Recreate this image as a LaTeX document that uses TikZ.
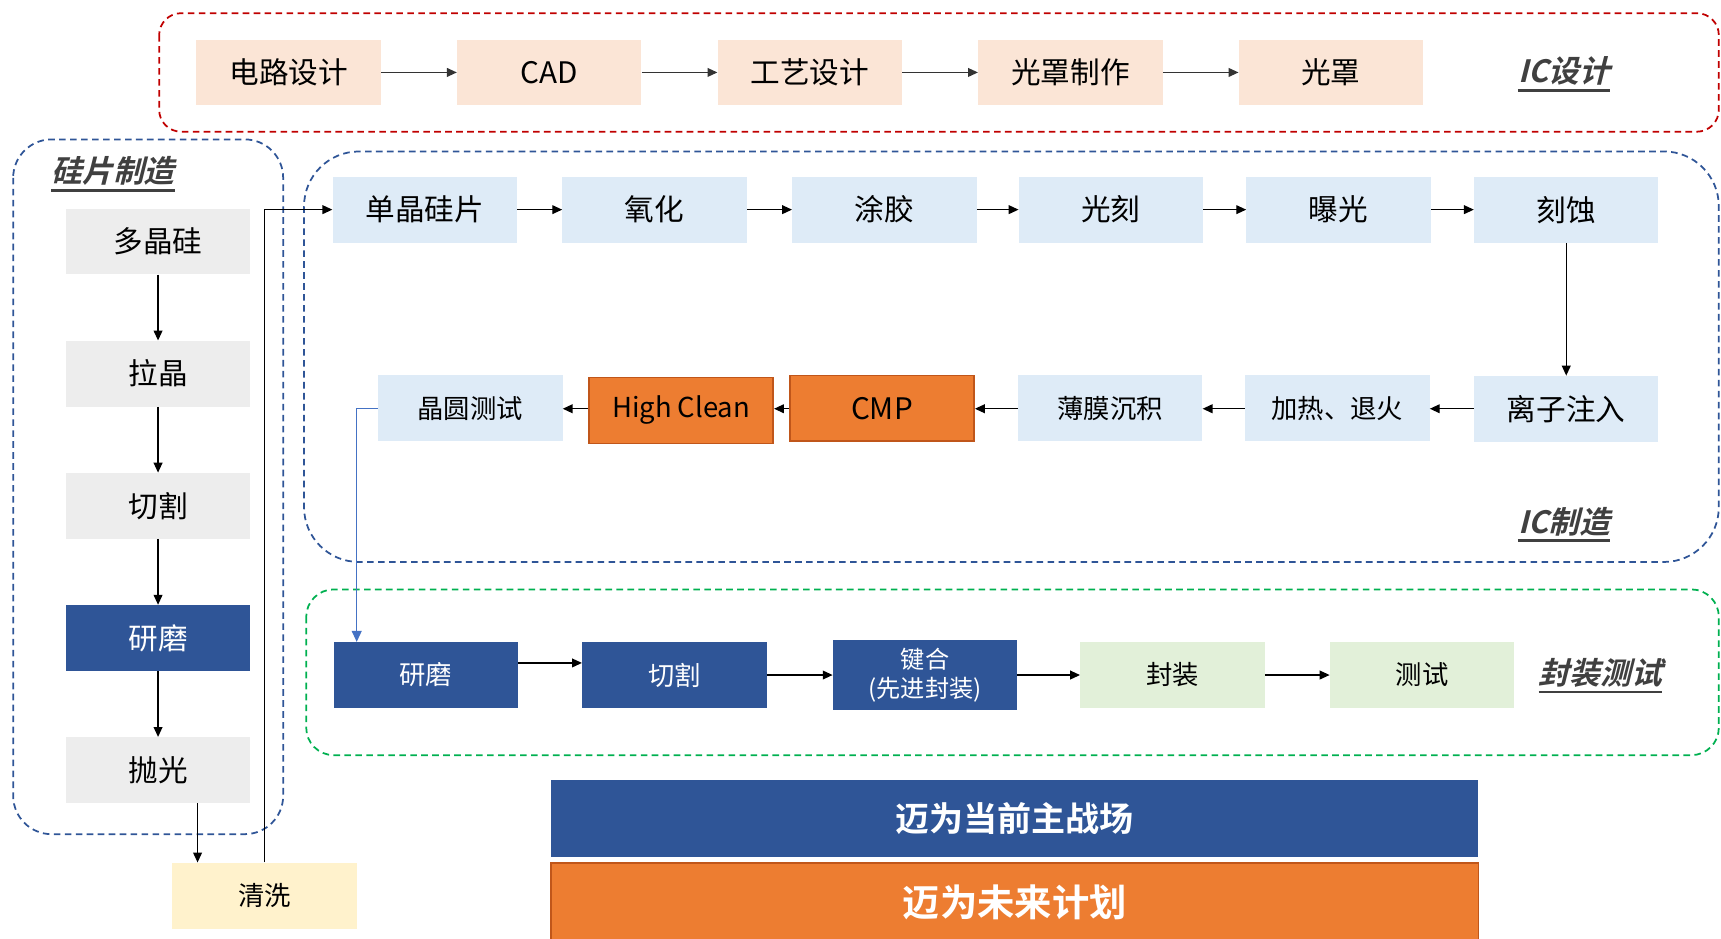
\documentclass[tikz,border=0pt]{standalone}
\usepackage{fontspec}
\setmainfont{Noto Sans CJK SC}
\newfontfamily\tagfont[FakeSlant=0.25]{Noto Sans CJK SC Bold}
\newfontfamily\barfont{Noto Sans CJK SC Bold}
\usetikzlibrary{arrows.meta, positioning}
\definecolor{Peach}{HTML}{FBE5D6}
\definecolor{IceBlue}{HTML}{DEEBF7}
\definecolor{PaleGray}{HTML}{EDEDED}
\definecolor{Cream}{HTML}{FFF2CC}
\definecolor{Mint}{HTML}{E2F0D9}
\definecolor{DeepBlue}{HTML}{2F5597}
\definecolor{Tangerine}{HTML}{ED7D31}
\definecolor{TangerineEdge}{HTML}{C0561A}
\definecolor{FrameRed}{HTML}{C00000}
\definecolor{FrameBlue}{HTML}{2F5597}
\definecolor{FrameGreen}{HTML}{00B050}
\definecolor{TagGray}{HTML}{404040}
\definecolor{LinkBlue}{HTML}{4472C4}

\begin{document}
\begin{tikzpicture}[x=1pt, y=-1pt,
    % --- Styles ---
    % Process step boxes
    stepbox/.style={
        minimum width=168pt, minimum height=60pt, inner sep=0pt,
        font=\fontsize{27}{30}\selectfont
    },
    design/.style={stepbox, fill=Peach},
    fab/.style={stepbox, fill=IceBlue},
    wafer/.style={stepbox, fill=PaleGray},
    pack/.style={stepbox, fill=Mint, font=\fontsize{24}{27}\selectfont},
    now/.style={stepbox, fill=DeepBlue, text=white, font=\fontsize{24}{27}\selectfont},
    plan/.style={stepbox, fill=Tangerine, draw=TangerineEdge, line width=1.5pt},
    % Group frames
    frame/.style={dashed, dash pattern=on 6pt off 4pt, line width=1.6pt},
    % Group titles
    tag/.style={font=\tagfont\fontsize{28}{30}\selectfont, text=TagGray, inner sep=0pt},
    tagline/.style={line width=2.5pt, draw=TagGray},
    % Connectors
    flow/.style={
        -{Triangle[length=9pt, width=8pt]},
        line width=1.2pt,
        draw=black
    },
    linkflow/.style={
        -{Triangle[length=10pt, width=9pt]},
        line width=1.2pt,
        draw=LinkBlue
    },
    % Bottom legend bars
    bar/.style={
        minimum width=845pt, minimum height=70pt, inner sep=0pt,
        text=white, font=\barfont\fontsize{31}{34}\selectfont
    }
]
\useasboundingbox (0,0) rectangle (1568,855);

% --- Group frames ---
\draw[frame, draw=FrameRed, rounded corners=20pt] (145,12) rectangle (1566,120);
\draw[frame, draw=FrameBlue, rounded corners=35pt] (12,127) rectangle (258,760);
\draw[frame, draw=FrameBlue, rounded corners=50pt] (277,138) rectangle (1566,512);
\draw[frame, draw=FrameGreen, rounded corners=25pt] (279,537) rectangle (1566,688);

% --- IC design row ---
\node[design] (cir) at (263,66) {电路设计};
\node[design, right=69pt of cir] (cad) {CAD};
\node[design, right=69pt of cad] (proc) {工艺设计};
\node[design, right=69pt of proc] (mkmask) {光罩制作};
\node[design, right=69pt of mkmask] (mask) {光罩};
\foreach \a/\b in {cir/cad, cad/proc, proc/mkmask, mkmask/mask} {
    \draw[flow, draw=black!80] (\a) -- (\b);
}
\node[tag] (icd) at (1425,65) {IC设计};
\draw[tagline] ([yshift=-4pt]icd.south west) -- ([yshift=-4pt]icd.south east);

% --- Wafer column ---
\node[tag] (wfr) at (103,156) {硅片制造};
\draw[tagline] ([yshift=-4pt]wfr.south west) -- ([yshift=-4pt]wfr.south east);
\node[wafer] (poly) at (144,220) {多晶硅};
\node[wafer, below=60pt of poly] (pull) {拉晶};
\node[wafer, below=60pt of pull] (slice) {切割};
\node[now, below=60pt of slice, font=\fontsize{27}{30}\selectfont] (grind) {研磨};
\node[wafer, below=60pt of grind] (pol) {抛光};
\foreach \a/\b in {poly/pull, pull/slice, slice/grind, grind/pol} {
    \draw[flow] (\a) -- (\b);
}
\node[stepbox, fill=Cream, font=\fontsize{24}{27}\selectfont] (wash) at (241,816) {清洗};
\draw[flow] ([xshift=36pt]pol.south) -- ([xshift=36pt]pol.south |- wash.north);

% --- IC fab, first row ---
\node[fab] (mono) at (387,191) {单晶硅片};
\node[fab, right=41pt of mono] (oxi) {氧化};
\node[fab, right=41pt of oxi] (coat) {涂胶};
\node[fab, right=38pt of coat] (litho) {光刻};
\node[fab, right=39pt of litho] (expo) {曝光};
\node[fab, right=39pt of expo] (etch) {刻蚀};
\foreach \a/\b in {mono/oxi, oxi/coat, coat/litho, litho/expo, expo/etch} {
    \draw[flow] (\a) -- (\b);
}
\draw[flow] (wash.north) |- (mono.west);

% --- IC fab, second row ---
\node[fab, below=121pt of etch] (ion) {离子注入};
\node[fab, font=\fontsize{24}{27}\selectfont] (anneal) at (1218.5,372) {加热、退火};
\node[fab, font=\fontsize{24}{27}\selectfont] (film) at (1011.5,372) {薄膜沉积};
\node[plan] (cmp) at (803.5,372) {CMP};
\node[plan, font=\fontsize{25}{28}\selectfont] (clean) at (620.5,374) {High Clean};
\node[fab, font=\fontsize{24}{27}\selectfont] (probe) at (428.5,372) {晶圆测试};
\draw[flow] (etch) -- (ion);
\foreach \a/\b in {ion/anneal, anneal/film, film/cmp, cmp/clean, clean/probe} {
    \draw[flow] (\a.west |- ion.west) -- (\b.east |- ion.west);
}
\node[tag] (icf) at (1425,475) {IC制造};
\draw[tagline] ([yshift=-4pt]icf.south west) -- ([yshift=-4pt]icf.south east);

% --- Packaging and test row ---
\node[now] (thin) at (388,615) {研磨};
\node[now, right=58pt of thin] (dice) {切割};
\node[now, right=60pt of dice, align=center, minimum height=63pt,
    font=\fontsize{22}{26}\selectfont] (bond) {键合\\(先进封装)};
\node[pack, right=57pt of bond] (pkg) {封装};
\node[pack, right=59pt of pkg] (test) {测试};
\draw[flow] ([yshift=11pt]thin.east) -- ([yshift=11pt]thin.east -| dice.west);
\foreach \a/\b in {dice/bond, bond/pkg, pkg/test} {
    \draw[flow] (\a.east |- dice.east) -- (\b.west |- dice.east);
}
\node[tag] (ptt) at (1458,613) {封装测试};
\draw[tagline] ([yshift=-4pt]ptt.south west) -- ([yshift=-4pt]ptt.south east);

% --- Wafer test down to packaging ---
\coordinate (drop) at (325,372);
\draw[linkflow] (probe.west) -- (drop) -- (drop |- thin.north);

% --- Legend bars ---
\node[bar, fill=DeepBlue] (present) at (924.5,746) {迈为当前主战场};
\node[bar, fill=Tangerine, draw=TangerineEdge, line width=1.5pt,
    minimum height=72pt, font=\barfont\fontsize{34}{37}\selectfont] (future) at (924.5,822) {迈为未来计划};

\end{tikzpicture}
\end{document}
